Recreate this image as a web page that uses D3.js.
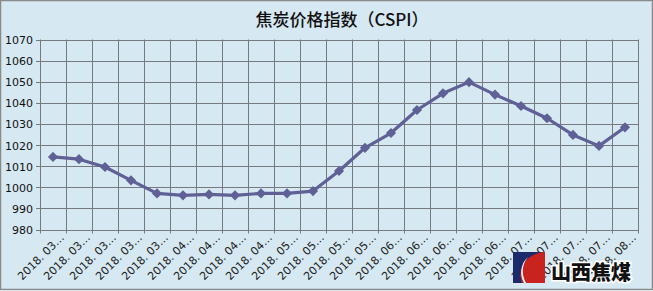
<!DOCTYPE html>
<html><head><meta charset="utf-8">
<script src="https://cdn.jsdelivr.net/npm/d3@7"></script>
<style>body{margin:0;background:#fff}svg{display:block}</style>
</head><body>
<script>
const title = "焦炭价格指数（CSPI）";
const categories = ["2018. 03…","2018. 03…","2018. 03…","2018. 03…","2018. 03…",
  "2018. 04…","2018. 04…","2018. 04…","2018. 04…",
  "2018. 05…","2018. 05…","2018. 05…","2018. 05…",
  "2018. 06…","2018. 06…","2018. 06…","2018. 06…","2018. 06…",
  "2018. 07…","2018. 07…","2018. 07…","2018. 07…","2018. 08…"];
const values = [1014.4,1013.3,1009.6,1003.3,997.1,996.2,996.6,996.2,997.1,997.1,998.2,
  1007.7,1018.7,1025.7,1036.6,1044.5,1049.8,1043.9,1038.5,1032.7,1024.8,1019.6,1028.4];
const yTicks = [980,990,1000,1010,1020,1030,1040,1050,1060,1070];

const W=653,H=291;
const bg="#d6e8f1", grid="#767a80", lineCol="#5f6095";
const svg=d3.select("body").append("svg").attr("width",W).attr("height",H);
svg.append("rect").attr("x",0.5).attr("y",0.5).attr("width",W-1).attr("height",H-2)
  .attr("fill",bg).attr("stroke","#8a8a8a").attr("stroke-width",1.5);

const L=40,R=638,T=39.5,B=229.5;
const x=d3.scaleBand().domain(d3.range(categories.length)).range([L,R]);
const y=d3.scaleLinear().domain([980,1070]).range([B,T]);

svg.append("text").attr("x",342).attr("y",26).attr("text-anchor","middle")
  .attr("font-family","'Noto Sans CJK SC','Noto Sans CJK JP',sans-serif").attr("font-weight","500")
  .attr("font-size",17).attr("fill","#111").text(title);

const g=svg.append("g");
g.selectAll("line.h").data(yTicks).join("line")
  .attr("x1",L-4).attr("x2",R).attr("y1",d=>Math.round(y(d))+0.5).attr("y2",d=>Math.round(y(d))+0.5)
  .attr("stroke",grid).attr("stroke-width",1);
const vx=d3.range(categories.length+1).map(i=>i<categories.length?x(i):R);
g.selectAll("line.v").data(vx).join("line")
  .attr("x1",d=>Math.round(d)+0.5).attr("x2",d=>Math.round(d)+0.5).attr("y1",T).attr("y2",B+4)
  .attr("stroke",grid).attr("stroke-width",1);

svg.append("g").selectAll("text").data(yTicks).join("text")
  .attr("x",33).attr("y",d=>y(d)+4.5).attr("text-anchor","end")
  .attr("font-family","'DejaVu Sans',sans-serif").attr("font-size",11).attr("fill","#111")
  .text(d=>d);

svg.append("g").selectAll("text").data(categories).join("text")
  .attr("transform",(d,i)=>`translate(${x(i)+x.bandwidth()/2+9},${B+6}) rotate(-45)`)
  .attr("text-anchor","end").attr("dy","0.35em")
  .attr("font-family","'DejaVu Sans',sans-serif").attr("font-size",11).attr("fill","#222")
  .text(d=>d);

const line=d3.line().x((d,i)=>x(i)+x.bandwidth()/2).y(d=>y(d));
svg.append("path").datum(values).attr("d",line).attr("fill","none")
  .attr("stroke",lineCol).attr("stroke-width",3.2).attr("stroke-linejoin","round");
svg.append("g").selectAll("rect").data(values).join("rect")
  .attr("x",-3.6).attr("y",-3.6).attr("width",7.2).attr("height",7.2)
  .attr("transform",(d,i)=>`translate(${x(i)+x.bandwidth()/2},${y(d)}) rotate(45)`)
  .attr("fill",lineCol);

const lg=svg.append("g");
lg.append("rect").attr("x",513).attr("y",252).attr("width",32).attr("height",31).attr("fill","#1b2a6b");
lg.append("path").attr("d","M545,252 L545,283 L522,283 C518,273 522,262 530,257 C535,254 540,252 545,252 Z").attr("fill","#c8231e");
lg.append("path").attr("d","M524,283 C519,274 521,263 528,257 C522,264 521,274 526,283 Z").attr("fill","#ffffff");
lg.append("text").attr("x",591).attr("y",280).attr("text-anchor","middle")
  .attr("font-family","'Noto Sans CJK SC',sans-serif").attr("font-weight","900")
  .attr("font-size",20).attr("fill","#111").attr("stroke","#ffffff").attr("stroke-width",3)
  .attr("paint-order","stroke").text("山西焦煤");
</script>
</body></html>
